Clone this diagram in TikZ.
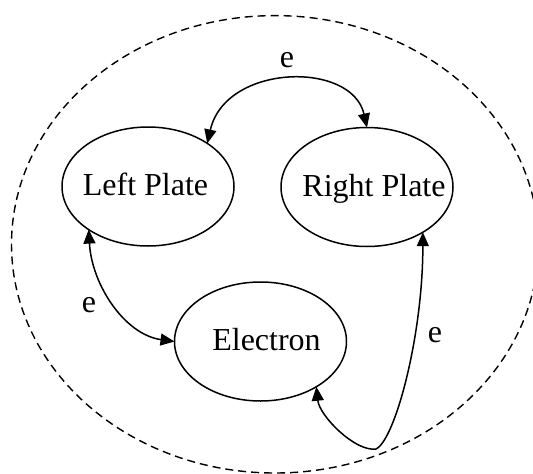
\documentclass[tikz,border=0pt]{standalone}
\usepackage{fontspec}
\setmainfont{Liberation Serif}
\usetikzlibrary{shapes.geometric,arrows.meta}
\begin{document}
\begin{tikzpicture}[x=1pt,y=-1pt,
  state/.style={draw,ellipse,line width=1.5pt,minimum width=172pt,minimum height=119pt,
    inner sep=0pt,outer sep=0pt,text height=18pt,text depth=0pt,
    font=\fontsize{32}{38}\selectfont},
  lbl/.style={inner sep=0pt,font=\fontsize{32}{38}\selectfont},
  conn/.style={line width=1.5pt,{Triangle[length=14pt,width=12pt]}-{Triangle[length=14pt,width=12pt]}},
  boundary/.style={draw,line width=1.4pt,dash pattern=on 8pt off 5pt}]
\useasboundingbox (0,0) rectangle (533,474);
\clip (0,0) rectangle (533,474);
\draw[boundary] (275,244.3) ellipse [x radius=263.5, y radius=228.7];
\node[state] (lp) at (148,186.5) {\makebox[0pt]{\hspace*{-5pt}Left Plate}};
\node[state] (rp) at (367,187) {\makebox[0pt]{\hspace*{14pt}Right Plate}};
\node[state] (el) at (260.5,341.5) {\makebox[0pt]{\hspace*{12pt}Electron}};
\coordinate (bend) at (376,449);
\draw[conn] (lp.36) .. controls +(18,-80) and +(-15,-67) .. (rp.90);
\draw[conn] (lp.216) .. controls +(3,55) and +(-50,-7) .. (el.180);
\draw[conn] (el.321.6) .. controls +(3,29) and +(-21,3) .. (bend)
  .. controls +(19,-9) and +(0,104) .. (rp.321);
\node[lbl] (e1) at (287,60.5) {e};
\node[lbl] (e2) at (89,305.5) {e};
\node[lbl] (e3) at (435,335) {e};
\end{tikzpicture}
\end{document}
